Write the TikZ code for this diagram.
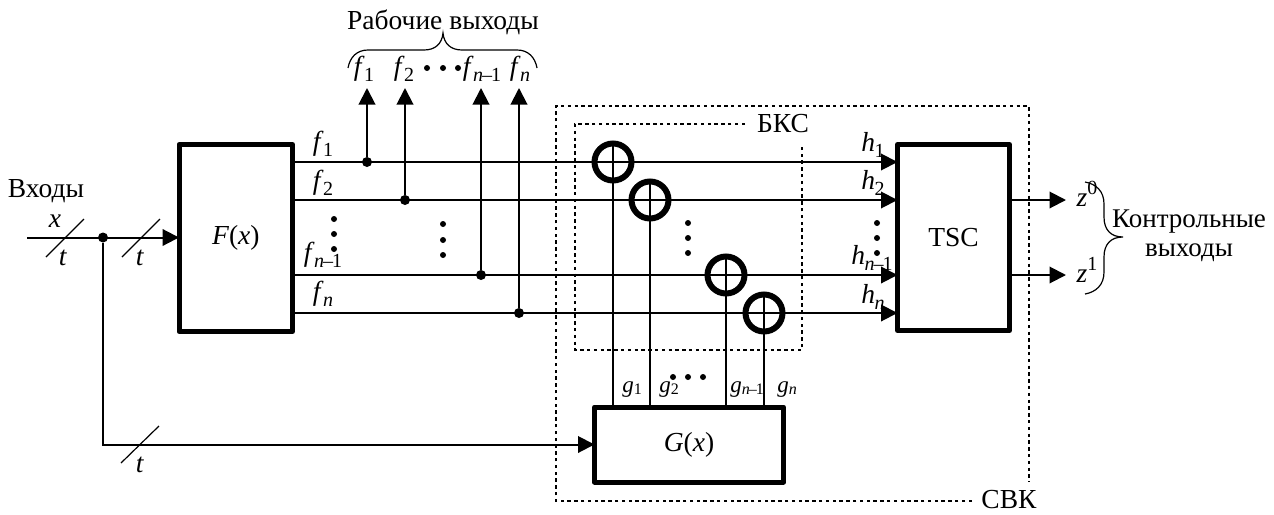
\documentclass[tikz,border=0pt]{standalone}
\usepackage{fontspec}
\setmainfont{Liberation Serif}
\usetikzlibrary{arrows.meta}
\newcommand{\lab}[2]{\textit{#1}\kern-0.5pt\raisebox{-0.2em}{\fontsize{20}{20}\selectfont #2}}
\newcommand{\gl}[2]{{\fontsize{23}{23}\selectfont\textit{#1}}\raisebox{-0.05em}{\fontsize{16}{16}\selectfont #2}}
\newcommand{\nm}{\textit{n}\kern-1pt–\kern-1pt1}
\tikzset{
  every node/.style={font=\fontsize{27.5}{30}\selectfont, inner sep=0pt, outer sep=0pt},
  blockbox/.style={draw, line width=5pt, line join=round},
  wire/.style={line width=2pt},
  arrowwire/.style={line width=2pt, -{Triangle[length=16.5pt,width=16.5pt]}},
  xorgate/.style={draw, circle, line width=6pt, minimum size=37pt},
  junction/.style={fill, circle, minimum size=10pt},
  frameline/.style={line width=2pt, dash pattern=on 3.4pt off 3.4pt},
  edot/.style={fill, circle, minimum size=6pt},
  bracecurve/.style={line width=1.2pt},
  lbl/.style={anchor=center}
}
\begin{document}
\begin{tikzpicture}[x=1pt,y=-1pt]
\useasboundingbox (0,0) rectangle (1274,514);
% blocks
\node[blockbox, minimum width=113.5pt, minimum height=187pt] (F) at (235.8,238) {\textit{F}(\textit{x})};
\node[blockbox, minimum width=112pt, minimum height=186pt] (T) at (953.5,237.5) {TSC};
\node[blockbox, minimum width=189pt, minimum height=75pt] (G) at (689,444.5) {\textit{G}(\textit{x})};
% xor gates
\node[xorgate] (X1) at (613,162) {};
\node[xorgate] (X2) at (650,200) {};
\node[xorgate] (X3) at (726,275) {};
\node[xorgate] (X4) at (764,313) {};
% coordinates
\coordinate (IN) at (27,237.5);
\node[junction] (J0) at (103,237.5) {};
\node[junction] (J1) at (367,162) {};
\node[junction] (J2) at (405,200) {};
\node[junction] (J3) at (481,275) {};
\node[junction] (J4) at (519,313) {};
\coordinate (U1) at (367,88);
\coordinate (U2) at (405,88);
\coordinate (U3) at (481,88);
\coordinate (U4) at (519,88);
\coordinate (O0) at (1066,200);
\coordinate (O1) at (1066,275);
% input
\draw[arrowwire] (IN) -- (IN -| F.west);
\draw[arrowwire] (J0) |- (G.west);
% horizontal lines
\foreach \n in {1,2,3,4} {
  \draw[arrowwire] (X\n.center -| F.east) -- (X\n.center -| T.west);
  \draw[wire] (X\n.north) -- (X\n.north |- G.north);
  \draw[arrowwire] (J\n) -- (U\n);
}
% outputs
\draw[arrowwire] (O0 -| T.east) -- (O0);
\draw[arrowwire] (O1 -| T.east) -- (O1);
% bus slashes
\coordinate (S1a) at (46,257); \coordinate (S1b) at (84,219);
\coordinate (S2a) at (122,257); \coordinate (S2b) at (160,219);
\coordinate (S3a) at (121,463); \coordinate (S3b) at (159,426);
\draw[line width=1.2pt] (S1a) -- (S1b);
\draw[line width=1.2pt] (S2a) -- (S2b);
\draw[line width=1.2pt] (S3a) -- (S3b);
% frames
\coordinate (B1) at (745,124); \coordinate (B2) at (575,124); \coordinate (B3) at (575,350); \coordinate (B4) at (802,350); \coordinate (B5) at (802,144);
\draw[frameline] (B1) -- (B2) -- (B3) -- (B4) -- (B5);
\coordinate (V1) at (972,501); \coordinate (V2) at (556,501); \coordinate (V3) at (556,106); \coordinate (V4) at (1029,106); \coordinate (V5) at (1029,482);
\draw[frameline] (V1) -- (V2) -- (V3) -- (V4) -- (V5);
% braces
\coordinate (TL) at (348,68); \coordinate (TR) at (537,68); \coordinate (TM) at (443,33);
\draw[bracecurve] (TL) .. controls (350,57) and (357,50) .. (368,50) -- (424,50) .. controls (435,50) and (442,44) .. (TM) .. controls (444,44) and (451,50) .. (462,50) -- (517,50) .. controls (528,50) and (535,57) .. (TR);
\coordinate (RT) at (1085,182); \coordinate (RB) at (1085,294); \coordinate (RM) at (1123,237);
\draw[bracecurve] (RT) .. controls (1096,184) and (1104,191) .. (1104,204) -- (1104,217) .. controls (1104,230) and (1111,237) .. (RM) .. controls (1111,237) and (1104,244) .. (1104,257) -- (1104,272) .. controls (1104,285) and (1096,292) .. (RB);
% ellipsis dots
\foreach \x/\y [count=\i] in {334/219,334/234,334/249,443/224,443/240,443/255,688/223,688/238,688/253,877/223,877/238,877/253,673/377,688/377,703/377,427/68,443/68,458/68} {
  \node[edot] (D\i) at (\x,\y) {};
}
% texts
\node[lbl] (tR) at (443,22) {Рабочие выходы};
\node[lbl] (tIn) at (46,191.5) {Входы};
\node[lbl] (tx) at (55,221) {\textit{x}};
\node[lbl] (tt1) at (63,258) {\textit{t}};
\node[lbl] (tt2) at (140,258) {\textit{t}};
\node[lbl] (tt3) at (140,465) {\textit{t}};
\node[lbl] (tf1) at (364,69) {\lab{f}{1}};
\node[lbl] (tf2) at (404,69) {\lab{f}{2}};
\node[lbl] (tf3) at (520,69) {\lab{f}{\textit{n}}};
\node[lbl] (tf4) at (482,69) {\lab{f}{\nm}};
\node[lbl] (lf1) at (323,144) {\lab{f}{1}};
\node[lbl] (lf2) at (323,183) {\lab{f}{2}};
\node[lbl] (lf3) at (323,255) {\lab{f}{\nm}};
\node[lbl] (lf4) at (323,294) {\lab{f}{\textit{n}}};
\node[lbl] (lh1) at (873,145) {\lab{h}{1}};
\node[lbl] (lh2) at (873,183) {\lab{h}{2}};
\node[lbl] (lh3) at (872,258) {\lab{h}{\nm}};
\node[lbl] (lh4) at (873,297) {\lab{h}{\textit{n}}};
\node[lbl] (lg1) at (632,390) {\gl{g}{1}};
\node[lbl] (lg2) at (669,390) {\gl{g}{2}};
\node[lbl] (lg3) at (747,390) {\gl{g}{\nm}};
\node[lbl] (lg4) at (787,390) {\gl{g}{\textit{n}}};
\node[lbl] (tB) at (783,124) {БКС};
\node[lbl] (tV) at (1009,500) {СВК};
\node[lbl] (z0) at (1087,194) {\textit{z}\raisebox{0.42em}{\fontsize{20}{20}\selectfont 0}};
\node[lbl] (z1) at (1087,270) {\textit{z}\raisebox{0.42em}{\fontsize{20}{20}\selectfont 1}};
\node[lbl,font=\fontsize{27}{30}\selectfont] (tK) at (1189,221.5) {Контрольные};
\node[lbl,font=\fontsize{27}{30}\selectfont] (tK2) at (1189,252.5) {выходы};
\end{tikzpicture}
\end{document}
